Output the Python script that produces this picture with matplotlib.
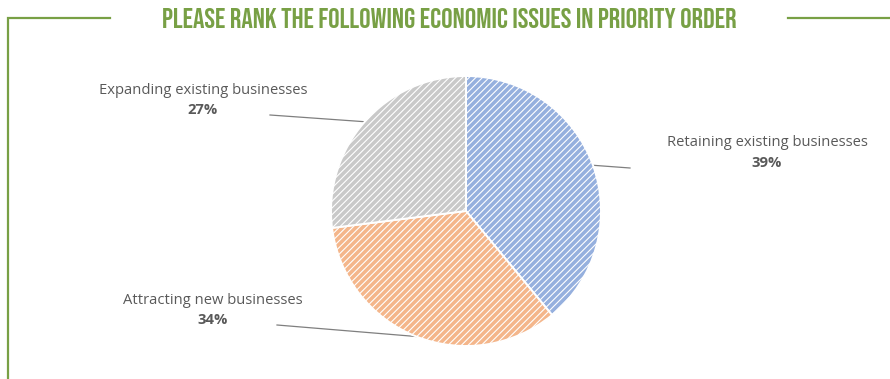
import numpy as np
import matplotlib
matplotlib.use("Agg")
import matplotlib.pyplot as plt

# survey results: share of respondents ranking each issue first
issues = ["Retaining existing businesses", "Attracting new businesses", "Expanding existing businesses"]
shares = [39, 34, 27]
fills = ["#96b0de", "#f4b68b", "#c9c9c9"]

title = "PLEASE RANK THE FOLLOWING ECONOMIC ISSUES IN PRIORITY ORDER"
green = "#78a045"
text_grey = "#595959"

W, H = 890, 379
cx, cy, R = 466, 211, 135  # pie centre / radius in pixels

# label block centres (pixels) and the outer end of each leader line
label_pos = {
    "Retaining existing businesses": (767, 143, 630, 168),
    "Attracting new businesses": (213, 300, 277, 325),
    "Expanding existing businesses": (203, 90, 270, 115),
}

plt.rcParams["hatch.linewidth"] = 0.8
plt.rcParams["hatch.color"] = "white"
fig = plt.figure(figsize=(W / 100, H / 100), dpi=100)

# overlay in pixel coordinates for the frame, title and labels
bg = fig.add_axes([0, 0, 1, 1])
bg.set_xlim(0, W)
bg.set_ylim(H, 0)
bg.axis("off")

bg.plot([8, 8, 110], [H, 17.5, 17.5], color=green, lw=1.6, solid_joinstyle="miter")
bg.plot([788, W], [17.5, 17.5], color=green, lw=1.6)
bg.text(449, 18.5, title, family=["Bebas Neue", "DejaVu Sans"], fontsize=20.5,
        color=green, ha="center", va="center")

ax = fig.add_axes([(cx - R) / W, (H - cy - R) / H, 2 * R / W, 2 * R / H])
wedges, _ = ax.pie(shares, colors=fills, startangle=90, counterclock=False,
                   wedgeprops=dict(edgecolor="white", linewidth=1.4))
for w in wedges:
    w.set_hatch("/////")
ax.set_xlim(-1, 1)
ax.set_ylim(-1, 1)
ax.set_aspect("equal")

for w, name, val in zip(wedges, issues, shares):
    mid = np.deg2rad((w.theta1 + w.theta2) / 2)
    ex = cx + R * np.cos(mid)
    ey = cy - R * np.sin(mid)
    tx, ty, lx, ly = label_pos[name]
    bg.plot([lx, ex], [ly, ey], color="#7f7f7f", lw=0.9, zorder=5)
    bg.text(tx, ty, name, family="Open Sans", fontsize=10.6, color=text_grey,
            ha="center", va="center")
    bg.text(tx, ty + 20, f"{val}%", family="Open Sans", fontsize=10.6,
            fontweight="bold", color=text_grey, ha="center", va="center")

fig.savefig("out.png", dpi=100)
